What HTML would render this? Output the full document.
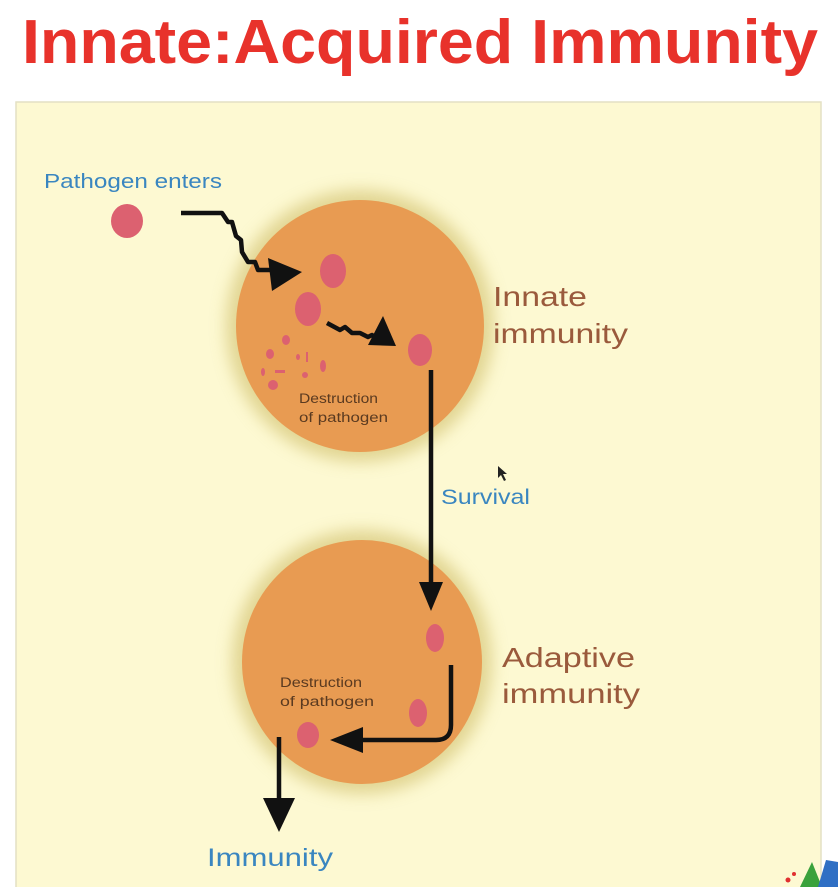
<!DOCTYPE html>
<html><head><meta charset="utf-8"><style>
html,body{margin:0;padding:0;background:#fff;width:838px;height:887px;overflow:hidden}
svg{display:block}
</style></head><body>
<svg width="838" height="887" viewBox="0 0 838 887" xmlns="http://www.w3.org/2000/svg">
<defs>
<filter id="glow" x="-30%" y="-30%" width="160%" height="160%"><feGaussianBlur stdDeviation="8"/></filter>
</defs>
<text x="22" y="63" font-family="Liberation Sans, sans-serif" font-weight="bold" font-size="62" fill="#e8322b" textLength="796" lengthAdjust="spacingAndGlyphs">Innate:Acquired Immunity</text>
<rect x="16" y="102" width="805" height="790" fill="#fdf9d2" stroke="#e4e0c4" stroke-width="1.5"/>
<ellipse cx="360" cy="326" rx="134" ry="136" fill="#cfbd68" opacity="0.6" filter="url(#glow)"/>
<ellipse cx="360" cy="326" rx="124" ry="126" fill="#e89b52"/>
<ellipse cx="362" cy="662" rx="130" ry="132" fill="#cfbd68" opacity="0.6" filter="url(#glow)"/>
<ellipse cx="362" cy="662" rx="120" ry="122" fill="#e89b52"/>
<g fill="#dc6170">
<ellipse cx="127" cy="221" rx="16" ry="17"/>
<ellipse cx="333" cy="271" rx="13" ry="17"/>
<ellipse cx="308" cy="309" rx="13" ry="17"/>
<ellipse cx="420" cy="350" rx="12" ry="16"/>
<ellipse cx="435" cy="638" rx="9" ry="14"/>
<ellipse cx="418" cy="713" rx="9" ry="14"/>
<ellipse cx="308" cy="735" rx="11" ry="13"/>
<ellipse cx="286" cy="340" rx="4" ry="5"/>
<ellipse cx="270" cy="354" rx="4" ry="5"/>
<ellipse cx="298" cy="357" rx="2" ry="3"/>
<rect x="306" y="352" width="2" height="10"/>
<ellipse cx="323" cy="366" rx="3" ry="6"/>
<ellipse cx="263" cy="372" rx="2" ry="4"/>
<rect x="275" y="370" width="10" height="3"/>
<ellipse cx="305" cy="375" rx="3" ry="3"/>
<ellipse cx="273" cy="385" rx="5" ry="5"/>
</g>
<g fill="none" stroke="#111" stroke-width="4.5" stroke-linejoin="round">
<path d="M181 213 L222 213 L228 222 L232 222 L236 236 L241 240 L242 252 L248 262 L255 262 L258 270 L270 270"/>
<path d="M327 323 L340 330 L345 327 L352 333 L360 333 L368 337 L372 335 L378 340"/>
<path d="M431 370 L431 590"/>
<path d="M451 665 L451 725 Q451 740 436 740 L360 740"/>
<path d="M279 737 L279 800"/>
</g>
<g fill="#111">
<polygon points="268,258 302,272 272,291"/>
<polygon points="368,345 383,316 396,346"/>
<polygon points="419,582 443,582 431,611"/>
<polygon points="363,727 363,753 330,740"/>
<polygon points="263,798 295,798 279,832"/>
</g>
<g font-family="Liberation Sans, sans-serif">
<text x="44" y="188" font-size="20" fill="#3a86c0" textLength="178" lengthAdjust="spacingAndGlyphs">Pathogen enters</text>
<text x="493" y="306" font-size="28" fill="#9a5a3c" textLength="94" lengthAdjust="spacingAndGlyphs">Innate</text>
<text x="493" y="343" font-size="28" fill="#9a5a3c" textLength="135" lengthAdjust="spacingAndGlyphs">immunity</text>
<text x="299" y="403" font-size="13.5" fill="#5a3a20" textLength="79" lengthAdjust="spacingAndGlyphs">Destruction</text>
<text x="299" y="422" font-size="13.5" fill="#5a3a20" textLength="89" lengthAdjust="spacingAndGlyphs">of pathogen</text>
<text x="441" y="504" font-size="21" fill="#3a86c0" textLength="89" lengthAdjust="spacingAndGlyphs">Survival</text>
<text x="502" y="667" font-size="28" fill="#9a5a3c" textLength="133" lengthAdjust="spacingAndGlyphs">Adaptive</text>
<text x="502" y="703" font-size="28" fill="#9a5a3c" textLength="138" lengthAdjust="spacingAndGlyphs">immunity</text>
<text x="280" y="687" font-size="13.5" fill="#5a3a20" textLength="82" lengthAdjust="spacingAndGlyphs">Destruction</text>
<text x="280" y="706" font-size="13.5" fill="#5a3a20" textLength="94" lengthAdjust="spacingAndGlyphs">of pathogen</text>
<text x="207" y="866" font-size="25" fill="#3a86c0" textLength="126" lengthAdjust="spacingAndGlyphs">Immunity</text>
</g>
<polygon points="498,466 498,478 501,475 504,481 506,480 503,474 507,474" fill="#222"/>
<g>
<polygon points="800,887 812,862 822,887" fill="#3aa23c"/>
<polygon points="818,887 826,860 838,862 838,887" fill="#2f6fc4"/>
<circle cx="788" cy="880" r="2.5" fill="#e03030"/>
<circle cx="794" cy="874" r="2" fill="#e03030"/>
</g>
</svg>
</body></html>
